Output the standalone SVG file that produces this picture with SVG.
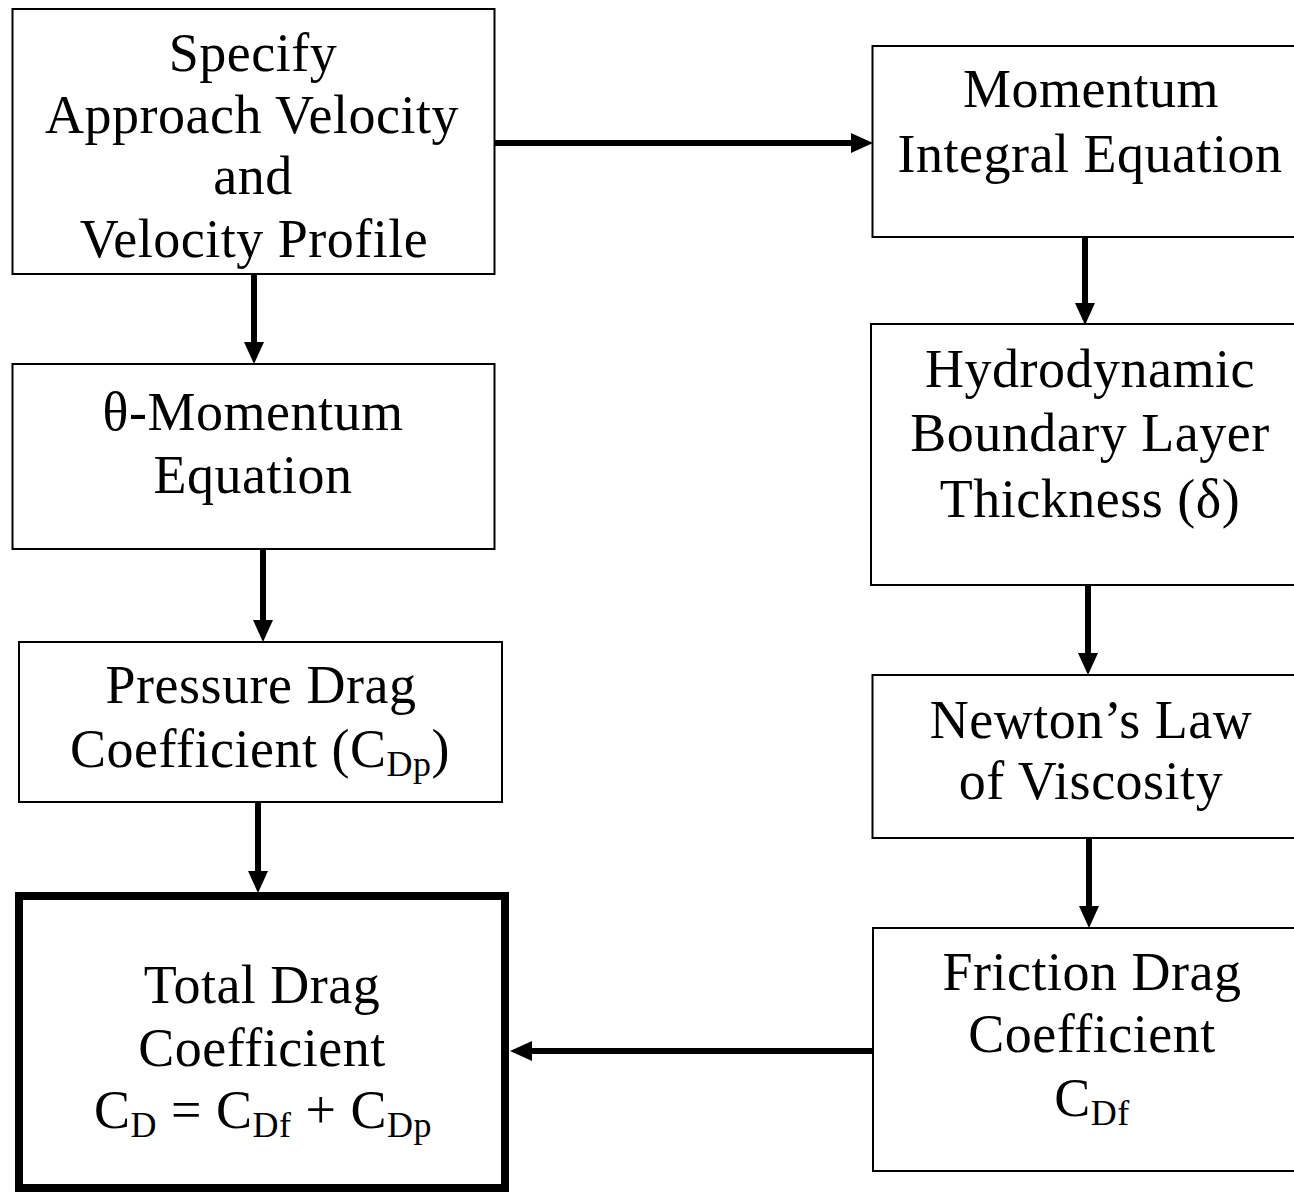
<svg xmlns="http://www.w3.org/2000/svg" width="1294" height="1192" viewBox="0 0 1294 1192">
<style>
.box{fill:#fff;stroke:#000;stroke-width:2}
.thick{fill:#fff;stroke:#000;stroke-width:8}
.t{font-family:"Liberation Serif","Times New Roman",serif;font-size:54px;fill:#000;text-anchor:middle;letter-spacing:0.5px}
.sub{font-size:36px}
.c{stroke:#000;stroke-width:6;fill:none;marker-end:url(#ah)}
</style>
<defs>
<marker id="ah" viewBox="0 0 22 20" markerWidth="22" markerHeight="20" refX="1" refY="10" orient="auto" markerUnits="userSpaceOnUse">
<path d="M0,0 L22,10 L0,20 z" fill="#000"/>
</marker>
</defs>
<rect width="1294" height="1192" fill="#fff"/>
<g id="connectors">
<path class="c" d="M494,143 H852"/>
<path class="c" d="M1085,237 V304"/>
<path class="c" d="M1088,585 V654"/>
<path class="c" d="M1089,838 V907"/>
<path class="c" d="M873,1051 H531"/>
<path class="c" d="M254,274 V343"/>
<path class="c" d="M263,549 V621"/>
<path class="c" d="M258,802 V872"/>
</g>
<g id="n1">
<rect class="box" x="12.5" y="9" width="482" height="265"/>
<text class="t" x="253" y="71">Specify</text>
<text class="t" x="252" y="133">Approach Velocity</text>
<text class="t" x="253" y="194">and</text>
<text class="t" x="254" y="257">Velocity Profile</text>
</g>
<g id="n2">
<rect class="box" x="872.5" y="46" width="440" height="191"/>
<text class="t" x="1091" y="107">Momentum</text>
<text class="t" x="1090" y="172">Integral Equation</text>
</g>
<g id="n3">
<rect class="box" x="12.5" y="364" width="482" height="185"/>
<text class="t" x="253" y="430">θ-Momentum</text>
<text class="t" x="253" y="493">Equation</text>
</g>
<g id="n4">
<rect class="box" x="871" y="324" width="440" height="261"/>
<text class="t" x="1090" y="387">Hydrodynamic</text>
<text class="t" x="1090" y="451">Boundary Layer</text>
<text class="t" x="1090" y="517">Thickness (δ)</text>
</g>
<g id="n5">
<rect class="box" x="19" y="642" width="483" height="160"/>
<text class="t" x="261" y="703">Pressure Drag</text>
<text class="t" x="260" y="767">Coefficient (C<tspan class="sub" dy="9">Dp</tspan><tspan dy="-9">)</tspan></text>
</g>
<g id="n6">
<rect class="box" x="872.5" y="675" width="440" height="163"/>
<text class="t" x="1091" y="738">Newton’s Law</text>
<text class="t" x="1091" y="799">of Viscosity</text>
</g>
<g id="n7">
<rect class="thick" x="19" y="896" width="486" height="292"/>
<text class="t" x="262" y="1003">Total Drag</text>
<text class="t" x="262" y="1066">Coefficient</text>
<text class="t" x="263" y="1128">C<tspan class="sub" dy="9">D</tspan><tspan dy="-9"> = C</tspan><tspan class="sub" dy="9">Df</tspan><tspan dy="-9"> + C</tspan><tspan class="sub" dy="9">Dp</tspan></text>
</g>
<g id="n8">
<rect class="box" x="873" y="928" width="440" height="243"/>
<text class="t" x="1092" y="990">Friction Drag</text>
<text class="t" x="1092" y="1052">Coefficient</text>
<text class="t" x="1092" y="1116">C<tspan class="sub" dy="9">Df</tspan></text>
</g>
</svg>
